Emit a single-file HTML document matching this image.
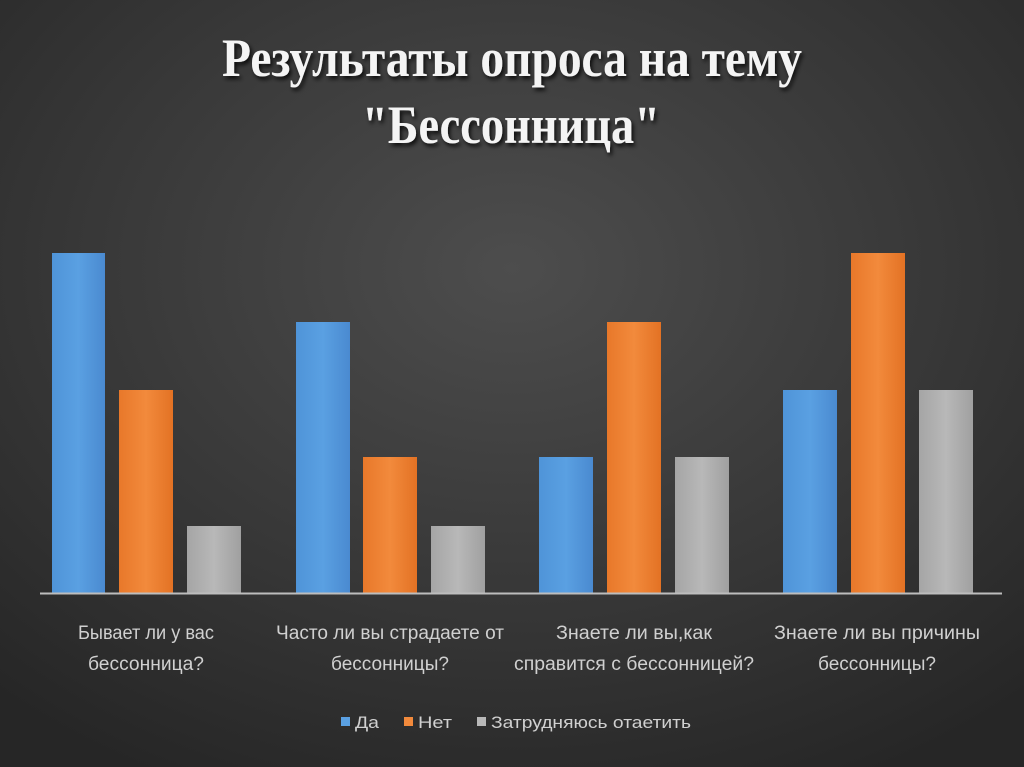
<!DOCTYPE html>
<html><head><meta charset="utf-8"><style>
html,body{margin:0;padding:0;width:1024px;height:767px;overflow:hidden;background:#333}
</style></head><body>
<svg width="1024" height="767" viewBox="0 0 1024 767" xmlns="http://www.w3.org/2000/svg">
<defs>
<radialGradient id="bg" cx="50%" cy="35%" r="75%">
<stop offset="0" stop-color="#4d4d4d"/><stop offset="0.6" stop-color="#363636"/><stop offset="1" stop-color="#262626"/>
</radialGradient>
<linearGradient id="b" x1="0" x2="1"><stop offset="0" stop-color="#4f94d8"/><stop offset="0.5" stop-color="#5aa0e2"/><stop offset="1" stop-color="#4a8ad0"/></linearGradient>
<linearGradient id="o" x1="0" x2="1"><stop offset="0" stop-color="#e8782a"/><stop offset="0.5" stop-color="#f28a3c"/><stop offset="1" stop-color="#e37224"/></linearGradient>
<linearGradient id="g" x1="0" x2="1"><stop offset="0" stop-color="#a5a5a5"/><stop offset="0.5" stop-color="#b8b8b8"/><stop offset="1" stop-color="#a0a0a0"/></linearGradient>
<filter id="sh"><feDropShadow dx="2" dy="3" stdDeviation="2" flood-color="#000" flood-opacity="0.8"/></filter>
</defs>
<rect width="1024" height="767" fill="url(#bg)"/>
<g font-family="Liberation Serif, serif" font-weight="bold" font-size="54" fill="#f4f4f4" filter="url(#sh)">
<text x="222" y="76" textLength="580" lengthAdjust="spacingAndGlyphs">Результаты опроса на тему</text>
<text x="362" y="143" textLength="298" lengthAdjust="spacingAndGlyphs">"Бессонница"</text>
</g>
<rect x="52" y="253" width="53" height="340" fill="url(#b)"/>
<rect x="119" y="390" width="54" height="203" fill="url(#o)"/>
<rect x="187" y="526" width="54" height="67" fill="url(#g)"/>
<rect x="296" y="322" width="54" height="271" fill="url(#b)"/>
<rect x="363" y="457" width="54" height="136" fill="url(#o)"/>
<rect x="431" y="526" width="54" height="67" fill="url(#g)"/>
<rect x="539" y="457" width="54" height="136" fill="url(#b)"/>
<rect x="607" y="322" width="54" height="271" fill="url(#o)"/>
<rect x="675" y="457" width="54" height="136" fill="url(#g)"/>
<rect x="783" y="390" width="54" height="203" fill="url(#b)"/>
<rect x="851" y="253" width="54" height="340" fill="url(#o)"/>
<rect x="919" y="390" width="54" height="203" fill="url(#g)"/>
<line x1="40" y1="593.5" x2="1002" y2="593.5" stroke="#bdbdbd" stroke-width="2"/>
<g font-family="Liberation Sans, sans-serif" font-size="19" fill="#d0d0d0" text-anchor="middle">
<text x="146" y="639" textLength="136" lengthAdjust="spacingAndGlyphs">Бывает ли у вас</text>
<text x="146" y="670" textLength="116" lengthAdjust="spacingAndGlyphs">бессонница?</text>
<text x="390" y="639" textLength="228" lengthAdjust="spacingAndGlyphs">Часто ли вы страдаете от</text>
<text x="390" y="670" textLength="118" lengthAdjust="spacingAndGlyphs">бессонницы?</text>
<text x="634" y="639" textLength="156" lengthAdjust="spacingAndGlyphs">Знаете ли вы,как</text>
<text x="634" y="670" textLength="240" lengthAdjust="spacingAndGlyphs">справится с бессонницей?</text>
<text x="877" y="639" textLength="206" lengthAdjust="spacingAndGlyphs">Знаете ли вы причины</text>
<text x="877" y="670" textLength="118" lengthAdjust="spacingAndGlyphs">бессонницы?</text>
</g>
<g font-family="Liberation Sans, sans-serif" font-size="17" fill="#d0d0d0">
<rect x="341" y="717" width="9" height="9" fill="#5aa0e2"/>
<text x="355" y="728" textLength="24" lengthAdjust="spacingAndGlyphs">Да</text>
<rect x="404" y="717" width="9" height="9" fill="#f28a3c"/>
<text x="418" y="728" textLength="34" lengthAdjust="spacingAndGlyphs">Нет</text>
<rect x="477" y="717" width="9" height="9" fill="#b8b8b8"/>
<text x="491" y="728" textLength="200" lengthAdjust="spacingAndGlyphs">Затрудняюсь отаетить</text>
</g>
</svg>
</body></html>
